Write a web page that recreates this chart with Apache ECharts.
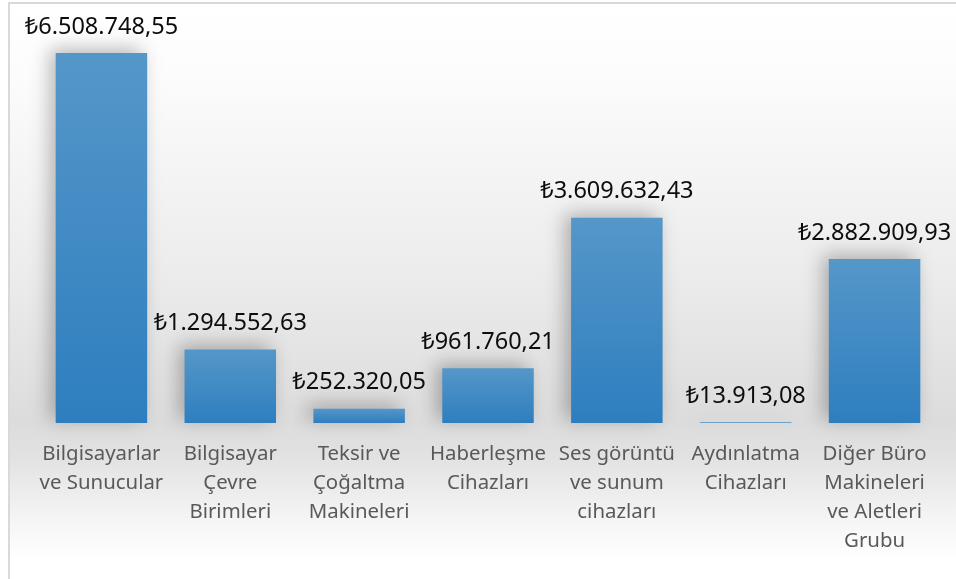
<!DOCTYPE html>
<html>
<head>
<meta charset="utf-8">
<script src="https://cdn.jsdelivr.net/npm/echarts@6/dist/echarts.min.js"></script>
<style>
  html, body { margin: 0; padding: 0; width: 956px; height: 579px; overflow: hidden; background: #fff; }
  .frame {
    position: absolute; left: 8px; top: 2px; width: 1000px; height: 600px;
    border: 2px solid #d9d9d9; box-sizing: border-box;
    background: linear-gradient(to bottom, #ffffff 0%, #fcfcfc 12%, #ececec 45%, #dcdcdc 70%, #e2e2e2 76%, #f4f4f4 86%, #ffffff 93%, #ffffff 100%);
  }
  #chart { position: absolute; left: 0; top: 0; width: 956px; height: 579px; }
</style>
</head>
<body>
<div class="frame"></div>
<div id="chart"></div>
<script>
const categories = [
  'Bilgisayarlar\nve Sunucular',
  'Bilgisayar\nÇevre\nBirimleri',
  'Teksir ve\nÇoğaltma\nMakineleri',
  'Haberleşme\nCihazları',
  'Ses görüntü\nve sunum\ncihazları',
  'Aydınlatma\nCihazları',
  'Diğer Büro\nMakineleri\nve Aletleri\nGrubu'
]
const values = [6508748.55, 1294552.63, 252320.05, 961760.21, 3609632.43, 13913.08, 2882909.93]

const formatTL = (v) => {
  const parts = v.toFixed(2).split('.')
  const intPart = parts[0].replace(/\B(?=(\d{3})+(?!\d))/g, '.')
  return '₺' + intPart + ',' + parts[1]
}

const chart = echarts.init(document.getElementById('chart'))

const option = {
  backgroundColor: 'transparent',
  animation: false,
  grid: {
    left: 37,
    right: 17,
    top: 25,
    bottom: 156
  },
  xAxis: {
    type: 'category',
    data: categories,
    axisLine: { show: false },
    axisTick: { show: false },
    axisLabel: {
      interval: 0,
      color: '#595959',
      fontSize: 20.4,
      lineHeight: 29,
      margin: 17,
      fontFamily: '"Noto Sans", sans-serif'
    }
  },
  yAxis: {
    type: 'value',
    min: 0,
    max: 7000000,
    show: false,
    splitLine: { show: false }
  },
  series: [
    {
      type: 'bar',
      data: values,
      barWidth: '71%',
      itemStyle: {
        color: new echarts.graphic.LinearGradient(0, 0, 0, 1, [
          { offset: 0, color: '#5597c9' },
          { offset: 1, color: '#2e7ebf' }
        ]),
        shadowColor: 'rgba(0, 0, 0, 0.28)',
        shadowBlur: 18,
        shadowOffsetX: -6,
        shadowOffsetY: -4
      },
      label: {
        show: true,
        position: 'top',
        distance: 14,
        color: '#0d0d0d',
        fontSize: 23.5,
        fontFamily: '"Noto Sans", sans-serif',
        formatter: (p) => formatTL(p.value)
      }
    }
  ]
}

chart.setOption(option)
</script>
</body>
</html>
